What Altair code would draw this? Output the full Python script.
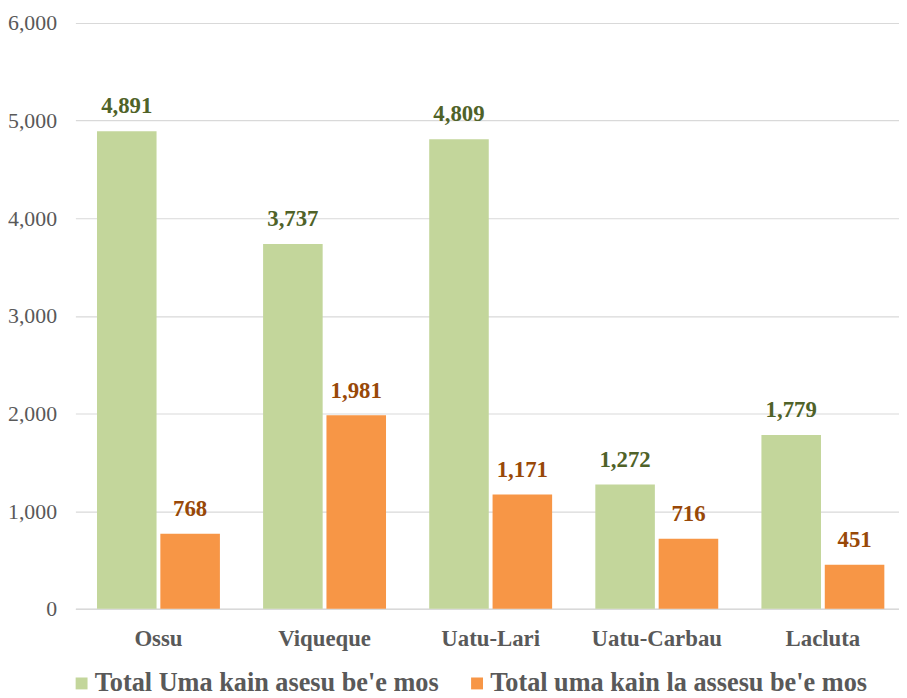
import altair as alt
import pandas as pd

districts = ["Ossu", "Viqueque", "Uatu-Lari", "Uatu-Carbau", "Lacluta"]
series_names = ["Total Uma kain asesu be'e mos", "Total uma kain la assesu be'e mos"]
with_access = [4891, 3737, 4809, 1272, 1779]
without_access = [768, 1981, 1171, 716, 451]
y_ticks = [0, 1000, 2000, 3000, 4000, 5000, 6000]

rows = []
for d, a, b in zip(districts, with_access, without_access):
    rows.append({"District": d, "Series": series_names[0], "Value": a})
    rows.append({"District": d, "Series": series_names[1], "Value": b})
df = pd.DataFrame(rows)

FONT = "Liberation Serif"
GREEN = "#C3D69B"
ORANGE = "#F79646"
GREEN_TXT = "#4F6228"
ORANGE_TXT = "#984807"
GRAY = "#595959"

x = alt.X("District:N", sort=districts, title=None,
          scale=alt.Scale(paddingInner=0.26, paddingOuter=0.13, range=[1, 839]),
          axis=alt.Axis(labelAngle=0, labelFont=FONT, labelFontSize=23, labelFontWeight="bold",
                        labelColor=GRAY, ticks=False, domainColor="#D9D9D9",
                        domainWidth=1.5, labelPadding=30, labelBaseline="middle"))
xo = alt.XOffset("Series:N", sort=series_names, scale=alt.Scale(paddingInner=0.06))
y = alt.Y("Value:Q", title=None,
          scale=alt.Scale(domain=[0, 6000]),
          axis=alt.Axis(values=y_ticks, format=",.0f",
                        labelFont=FONT, labelFontSize=22, labelColor=GRAY,
                        domain=False, ticks=False, gridColor="#D9D9D9", gridWidth=1.2,
                        labelPadding=18))

bars = alt.Chart(df).mark_bar().encode(
    x=x, xOffset=xo, y=y,
    color=alt.Color("Series:N", sort=series_names,
                    scale=alt.Scale(domain=series_names, range=[GREEN, ORANGE]),
                    legend=alt.Legend(title=None, orient="none", direction="horizontal",
                                      legendX=-6, legendY=653, padding=0,
                                      symbolType="square", symbolSize=144, symbolStrokeWidth=0,
                                      labelFont=FONT, labelFontSize=26.5, labelFontWeight="bold",
                                      labelColor=GRAY, columnPadding=25, labelLimit=500,
                                      labelOffset=0)),
)

labels = alt.Chart(df).mark_text(font=FONT, fontSize=23, fontWeight="bold",
                                 baseline="alphabetic", dy=-18).encode(
    x=x, xOffset=xo, y=y,
    text=alt.Text("Value:Q", format=","),
    fill=alt.condition(alt.datum.Series == series_names[0], alt.value(GREEN_TXT), alt.value(ORANGE_TXT)),
)

chart = (bars + labels).properties(
    width=830, height=591,
    autosize=alt.AutoSizeParams(type="none"),
    padding={"left": 67, "top": 12, "right": 2, "bottom": 95},
).configure_view(stroke=None)

chart.save("out.html", embed_options={"renderer": "svg", "actions": False})
